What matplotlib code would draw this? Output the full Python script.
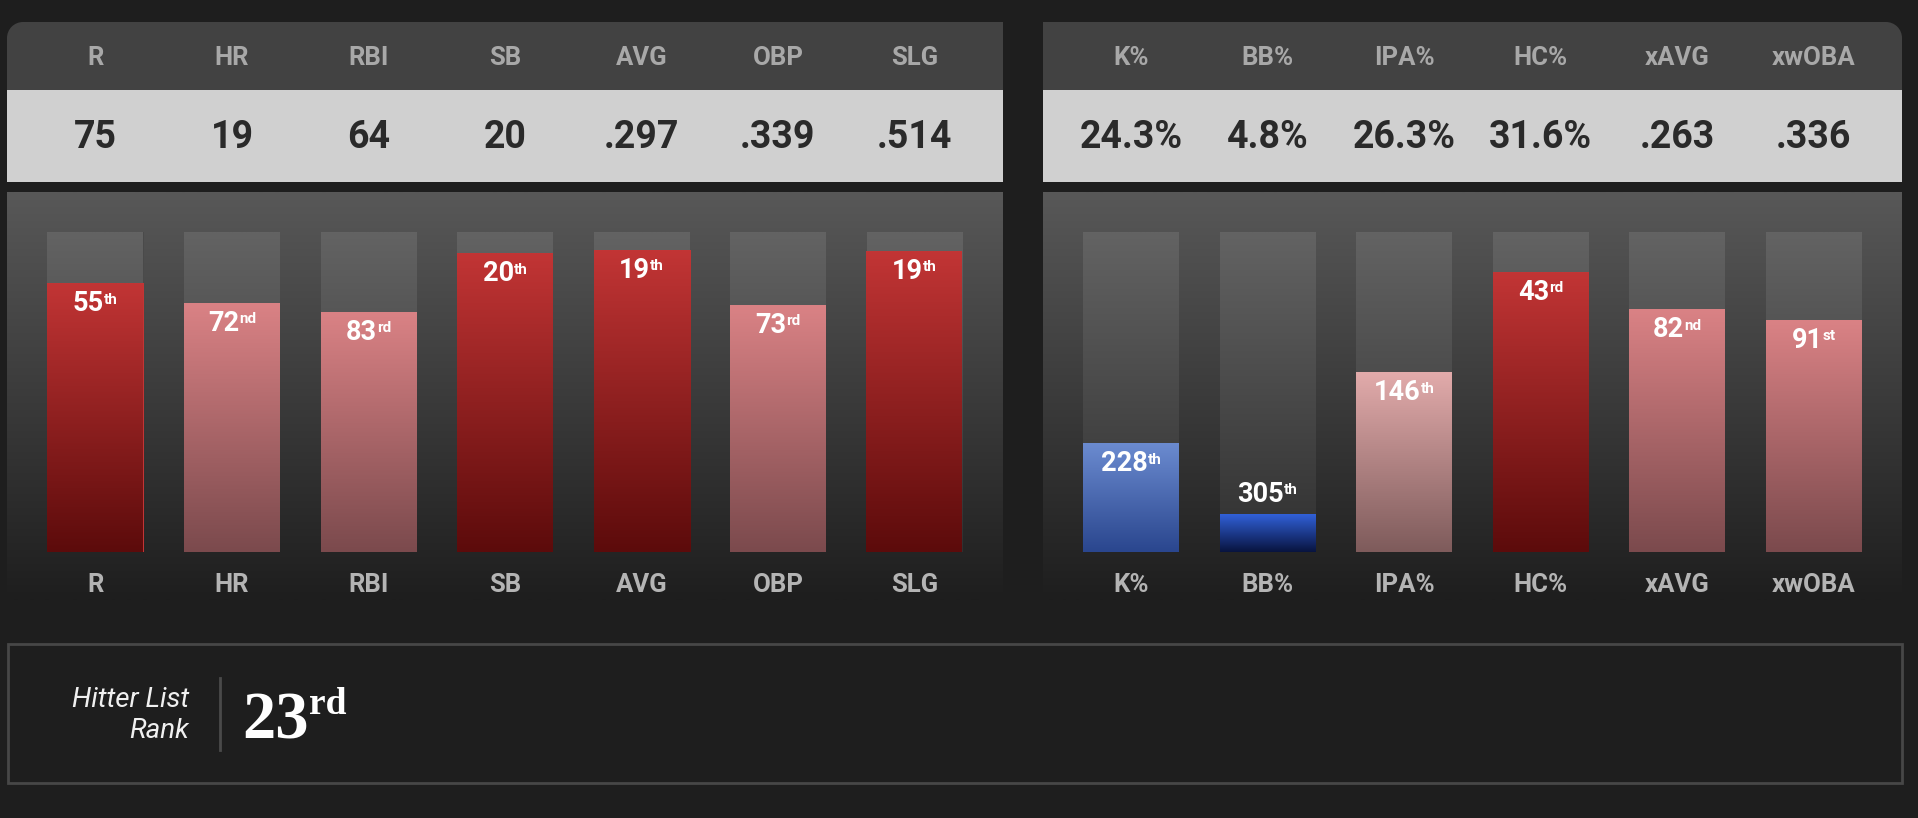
import matplotlib.pyplot as plt
import numpy as np
from matplotlib.patches import Rectangle, Circle
from matplotlib.colors import to_rgb
from matplotlib.transforms import blended_transform_factory

# stat data
left_cats = ["R", "HR", "RBI", "SB", "AVG", "OBP", "SLG"]
left_values = ["75", "19", "64", "20", ".297", ".339", ".514"]
left_ranks = [55, 72, 83, 20, 19, 73, 19]
left_pct = [0.840, 0.778, 0.750, 0.933, 0.944, 0.772, 0.941]

right_cats = ["K%", "BB%", "IPA%", "HC%", "xAVG", "xwOBA"]
right_values = ["24.3%", "4.8%", "26.3%", "31.6%", ".263", ".336"]
right_ranks = [228, 305, 146, 43, 82, 91]
right_pct = [0.340, 0.118, 0.562, 0.875, 0.759, 0.725]

list_rank = 23

W, H = 1918, 818
BG = "#1e1e1e"
HEAD = "#424242"
LIGHT = "#d0d0d0"
FONT = "Roboto"

TIERS = [(60, ("#c23535", "#5c0b0b")),
         (100, ("#da8285", "#7b4a4d")),
         (200, ("#e2abab", "#7e5b5b")),
         (300, ("#6b8bd0", "#2a468e")),
         (10**6, ("#3160d8", "#08143f"))]


def tier(rank):
    for lim, cols in TIERS:
        if rank <= lim:
            return cols


def suffix(n):
    if 10 <= n % 100 <= 20:
        return "th"
    return {1: "st", 2: "nd", 3: "rd"}.get(n % 10, "th")


def gradient(top, bottom, n=256):
    g = np.linspace(0, 1, n)[:, None, None]
    return np.array(to_rgb(top)) * (1 - g) + np.array(to_rgb(bottom)) * g


def pixel_axes(z):
    a = fig.add_axes([0, 0, 1, 1])
    a.axis("off")
    a.set_xlim(0, W)
    a.set_ylim(H, 0)
    a.set_autoscale_on(False)
    a.set_zorder(z)
    return a


fig = plt.figure(figsize=(W / 100, H / 100), dpi=100)
fig.patch.set_facecolor(BG)
bg = pixel_axes(0)     # panels
fg = pixel_axes(10)    # text on top of the bars

BAR_TOP, BAR_BOT = 232.0, 551.7
STEP = 136.5


def panel(x0, x1, corner):
    r = 16
    bg.add_patch(Rectangle((x0, 22), x1 - x0, 68, color=HEAD, lw=0))
    cx = x0 if corner == "left" else x1 - r
    bg.add_patch(Rectangle((cx, 22), r, r, color=BG, lw=0, zorder=1.5))
    ccx = x0 + r if corner == "left" else x1 - r
    bg.add_patch(Circle((ccx, 22 + r), r, color=HEAD, lw=0, zorder=1.6))
    bg.add_patch(Rectangle((x0, 90), x1 - x0, 91.7, color=LIGHT, lw=0))
    bg.imshow(gradient("#585858", BG), extent=(x0, x1, 600, 192),
              origin="upper", aspect="auto", interpolation="bilinear", zorder=0.5)


def grad_patch(ax, patch, top, bottom):
    x0, w, h = patch.get_x(), patch.get_width(), patch.get_height()
    im = ax.imshow(gradient(top, bottom), extent=(x0, x0 + w, 0, h), origin="upper",
                   aspect="auto", interpolation="bilinear", zorder=patch.get_zorder() + 0.1)
    im.set_clip_path(patch)


def ordinal(xc, ybase, num, suf, size, suf_size, rise, family, weight, color, ha="center", gap=0):
    t1 = fg.text(0, ybase, num, fontsize=size, family=family, weight=weight, color=color,
                 va="baseline", ha="left")
    t2 = fg.text(0, ybase - rise, suf, fontsize=suf_size, family=family, weight=weight, color=color,
                 va="baseline", ha="left")
    rend = fig.canvas.get_renderer()
    w1 = t1.get_window_extent(rend).width
    w2 = t2.get_window_extent(rend).width
    x0 = xc - (w1 + w2 + gap) / 2 if ha == "center" else xc
    t1.set_x(x0)
    t2.set_x(x0 + w1 + gap)


def bar_block(cats, values, ranks, pct, c0):
    n = len(cats)
    left = c0 - STEP / 2
    right = c0 + (n - 1) * STEP + STEP / 2
    ax = fig.add_axes([left / W, (H - BAR_BOT) / H, (right - left) / W, (BAR_BOT - BAR_TOP) / H])
    ax.axis("off")
    ax.set_zorder(5)
    x = np.arange(n)
    width = 96 / STEP
    backs = ax.bar(x, np.ones(n), width=width, color="#4a4a4a", lw=0, zorder=1)
    for p in backs:
        grad_patch(ax, p, "#636363", "#303030")
    for i, (p, r) in enumerate(zip(pct, ranks)):
        top, bot = tier(r)
        fill = ax.bar(x[i], p, width=width, color=top, lw=0, zorder=3)[0]
        grad_patch(ax, fill, top, bot)
    ax.set_xlim(-0.5, n - 0.5)
    ax.set_ylim(0, 1)

    trans = blended_transform_factory(ax.transData, fg.transData)
    for i, c in enumerate(cats):
        fg.text(x[i], 65, c, transform=trans, ha="center", va="baseline", fontsize=18.5,
                family=FONT, weight="bold", color="#a8a8a8")
        fg.text(x[i], 148, values[i], transform=trans, ha="center", va="baseline", fontsize=27,
                family=FONT, weight="bold", color="#2a2a2a")
        fg.text(x[i], 591.5, c, transform=trans, ha="center", va="baseline", fontsize=18.5,
                family=FONT, weight="bold", color="#b4b4b4")
    # rank labels just inside the top of each fill (above it when the fill is short)
    inv = fg.transData.inverted()
    for i, (p, r) in enumerate(zip(pct, ranks)):
        xc, ytop = inv.transform(ax.transData.transform((x[i], p)))
        ybase = ytop + 28 if p > 0.15 else ytop - 12
        ordinal(xc, ybase, str(r), suffix(r), 19.5, 11, 7.5, FONT, "bold", "white")


panel(7, 1003, "left")
panel(1043, 1902, "right")

bar_block(left_cats, left_values, left_ranks, left_pct, 95.5)
bar_block(right_cats, right_values, right_ranks, right_pct, 1131)

# bottom rank box
bg.add_patch(Rectangle((8, 644.3), 1893.7, 138.4, fill=False, edgecolor="#474747", lw=2))
fg.text(189, 706.7, "Hitter List", ha="right", va="baseline", fontsize=20, family=FONT,
        weight="normal", style="italic", color="#f0f0f0")
fg.text(189, 738.3, "Rank", ha="right", va="baseline", fontsize=20, family=FONT,
        weight="normal", style="italic", color="#f0f0f0")
fg.plot([220, 220], [678, 750], color="#4a4a4a", lw=2)

ordinal(242, 738.3, str(list_rank), suffix(list_rank), 48, 27, 24, "Liberation Serif", "bold",
        "white", ha="left")

fig.savefig("out.png", dpi=100, facecolor=BG)
